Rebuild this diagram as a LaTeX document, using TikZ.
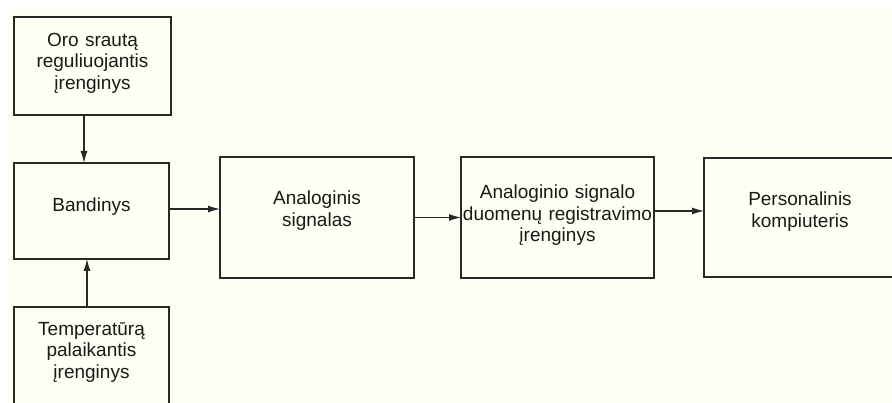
\documentclass[tikz,border=0pt]{standalone}
\usepackage{fontspec}
\setmainfont{Liberation Sans}
\usetikzlibrary{%
    arrows.meta,
    positioning
}
\definecolor{paper}{RGB}{255,255,243}
\definecolor{ink}{RGB}{40,40,40}
\tikzset{headarrow/.style = {draw=ink, line width=1.1pt, -{Latex[length=12pt,width=7pt]}}}
\tikzset{blockbox/.style = {draw=ink, line width=1.1pt, rectangle, inner sep=0pt, outer sep=0pt,
    align=center, text=black!90, font=\fontsize{19}{21.5}\selectfont}}
\tikzset{raisetext/.style = {execute at end node={\vspace{#1}}}}

\begin{document}
\begin{tikzpicture}[x=1pt,y=-1pt]
    \useasboundingbox[fill=white] (0,0) rectangle (892,403);
    \clip (0,0) rectangle (892,403);
    \fill[paper] (9,9) rectangle (892,403);

    \node (B) [blockbox, raisetext=8pt, text width=155pt, minimum height=96pt] at (91.5,211) {Bandinys};
    \node (O) [blockbox, raisetext=6pt, text width=157pt, minimum height=98pt, above=48pt of B, xshift=1pt]
        {Oro srautą\\reguliuojantis\\įrenginys};
    \node (T) [blockbox, raisetext=14pt, text width=155pt, minimum height=104pt, below=48pt of B]
        {Temperatūrą\\palaikantis\\įrenginys};
    \node (S) [blockbox, raisetext=14pt, text width=194pt, minimum height=121pt, right=51pt of B, yshift=-6.5pt]
        {Analoginis\\signalas};
    \node (R) [blockbox, raisetext=4pt, text width=193pt, minimum height=121pt, right=47pt of S]
        {Analoginio signalo\\duomenų registravimo\\įrenginys};
    \node (K) [blockbox, raisetext=12pt, text width=192pt, minimum height=119pt, right=50pt of R]
        {Personalinis\\kompiuteris};

    \draw[headarrow] ([xshift=-8.5pt]O.south) -- ([xshift=-7.5pt]B.north);
    \draw[headarrow] ([xshift=-4.5pt]T.north) -- ([xshift=-4.5pt]B.south);
    \draw[headarrow] ([yshift=2pt]B.east) -- ([yshift=8.5pt]S.west);
    \draw[headarrow] (S) -- (R);
    \draw[headarrow] ([yshift=6.5pt]R.east) -- ([yshift=6.5pt]K.west);
\end{tikzpicture}
\end{document}
